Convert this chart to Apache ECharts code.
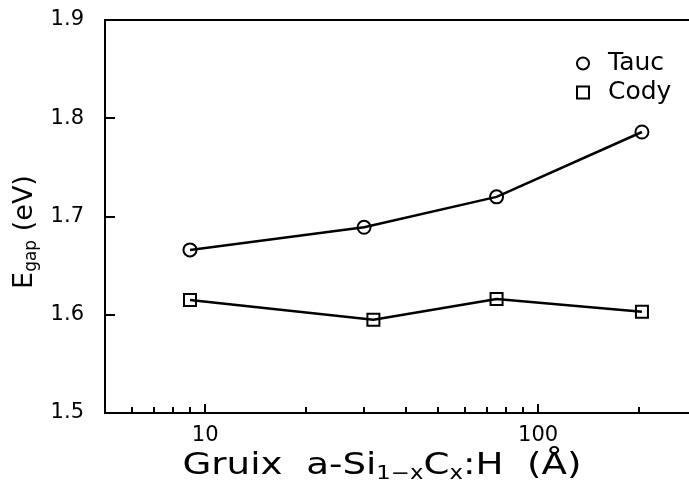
<!DOCTYPE html>
<html>
<head>
<meta charset="utf-8">
<script src="https://cdn.jsdelivr.net/npm/echarts@6/dist/echarts.min.js"></script>
<style>
  html, body { margin: 0; padding: 0; background: #fff; }
  #chart { width: 689px; height: 489px; }
</style>
</head>
<body>
<div id="chart"></div>
<script>
// gruix (Å) i gap (eV) llegits de la figura
const thickTauc = [9, 30, 75, 205];
const gapTauc = [1.666, 1.689, 1.720, 1.786];
const thickCody = [9, 32, 75, 205];
const gapCody = [1.615, 1.595, 1.616, 1.603];

const xMajorTicks = [10, 100];
const xMinorTicks = [5, 6, 7, 8, 9, 20, 30, 40, 50, 60, 70, 80, 90, 200, 300];
const yTicks = [1.5, 1.6, 1.7, 1.8, 1.9];

const FONT = 'DejaVu Sans, sans-serif';

const chart = echarts.init(document.getElementById('chart'));

const markerStyle = { color: 'rgba(0,0,0,0)', borderColor: '#000', borderWidth: 2 };

chart.setOption({
  animation: false,
  textStyle: { fontFamily: FONT, color: '#000' },
  // el marc dret queda fora de la imatge, com a l'original
  grid: {
    left: 105, width: 592, top: 20, bottom: 76,
    outerBoundsMode: 'none', containLabel: false,
    show: true, borderColor: '#000', borderWidth: 2
  },
  legend: {
    orient: 'vertical',
    left: 571,
    top: 46,
    itemWidth: 12,
    itemHeight: 12,
    itemGap: 4,
    itemStyle: { color: 'rgba(0,0,0,0)', borderColor: '#000', borderWidth: 2 },
    textStyle: { fontSize: 25, fontFamily: FONT, color: '#000', padding: [0, 0, 0, 14] },
    data: [{ name: 'Tauc', icon: 'circle' }, { name: 'Cody', icon: 'rect' }]
  },
  xAxis: [
    {
      type: 'log', logBase: 10, min: 5, max: 300,
      axisLine: { lineStyle: { color: '#000', width: 2 } },
      axisTick: { inside: true, length: 6, customValues: xMinorTicks, lineStyle: { color: '#000', width: 2 } },
      axisLabel: { customValues: xMajorTicks, fontSize: 21, margin: 12, color: '#000', fontFamily: FONT },
      splitLine: { show: false }
    },
    {
      type: 'log', logBase: 10, min: 5, max: 300, position: 'bottom',
      axisLine: { show: false },
      axisTick: { inside: true, length: 9, customValues: xMajorTicks, lineStyle: { color: '#000', width: 2 } },
      axisLabel: { show: false },
      splitLine: { show: false }
    }
  ],
  yAxis: {
    type: 'value', min: 1.5, max: 1.9, interval: 0.1,
    axisLine: { show: true, lineStyle: { color: '#000', width: 2 } },
    axisTick: { inside: true, length: 10, customValues: yTicks, lineStyle: { color: '#000', width: 2 } },
    axisLabel: { fontSize: 21, margin: 21, color: '#000', fontFamily: FONT, formatter: v => v.toFixed(1) },
    splitLine: { show: false }
  },
  graphic: [
    {
      type: 'text',
      x: 382, y: 466,
      scaleX: 1.2,
      style: {
        text: 'Gruix  a-Si{s|1−x}C{s|x}:H  (Å)',
        fontFamily: FONT,
        fontSize: 31,
        fill: '#000',
        align: 'center',
        verticalAlign: 'middle',
        rich: { s: { fontSize: 19, fontFamily: FONT, fill: '#000', verticalAlign: 'bottom', padding: [16, 0, 0, 0] } }
      }
    },
    {
      type: 'text',
      x: 25, y: 232,
      rotation: Math.PI / 2,
      style: {
        text: 'E{s|gap} (eV)',
        fontFamily: FONT,
        fontSize: 27,
        fill: '#000',
        align: 'center',
        verticalAlign: 'middle',
        rich: { s: { fontSize: 17, fontFamily: FONT, fill: '#000', verticalAlign: 'bottom', padding: [14, 0, 0, 0] } }
      }
    }
  ],
  series: [
    {
      name: 'Tauc',
      type: 'line',
      symbol: 'circle',
      symbolSize: 13,
      data: thickTauc.map((t, i) => [t, gapTauc[i]]),
      lineStyle: { color: '#000', width: 2.5 },
      itemStyle: markerStyle
    },
    {
      name: 'Cody',
      type: 'line',
      symbol: 'rect',
      symbolSize: 12,
      data: thickCody.map((t, i) => [t, gapCody[i]]),
      lineStyle: { color: '#000', width: 2.5 },
      itemStyle: markerStyle
    }
  ]
});
</script>
</body>
</html>
